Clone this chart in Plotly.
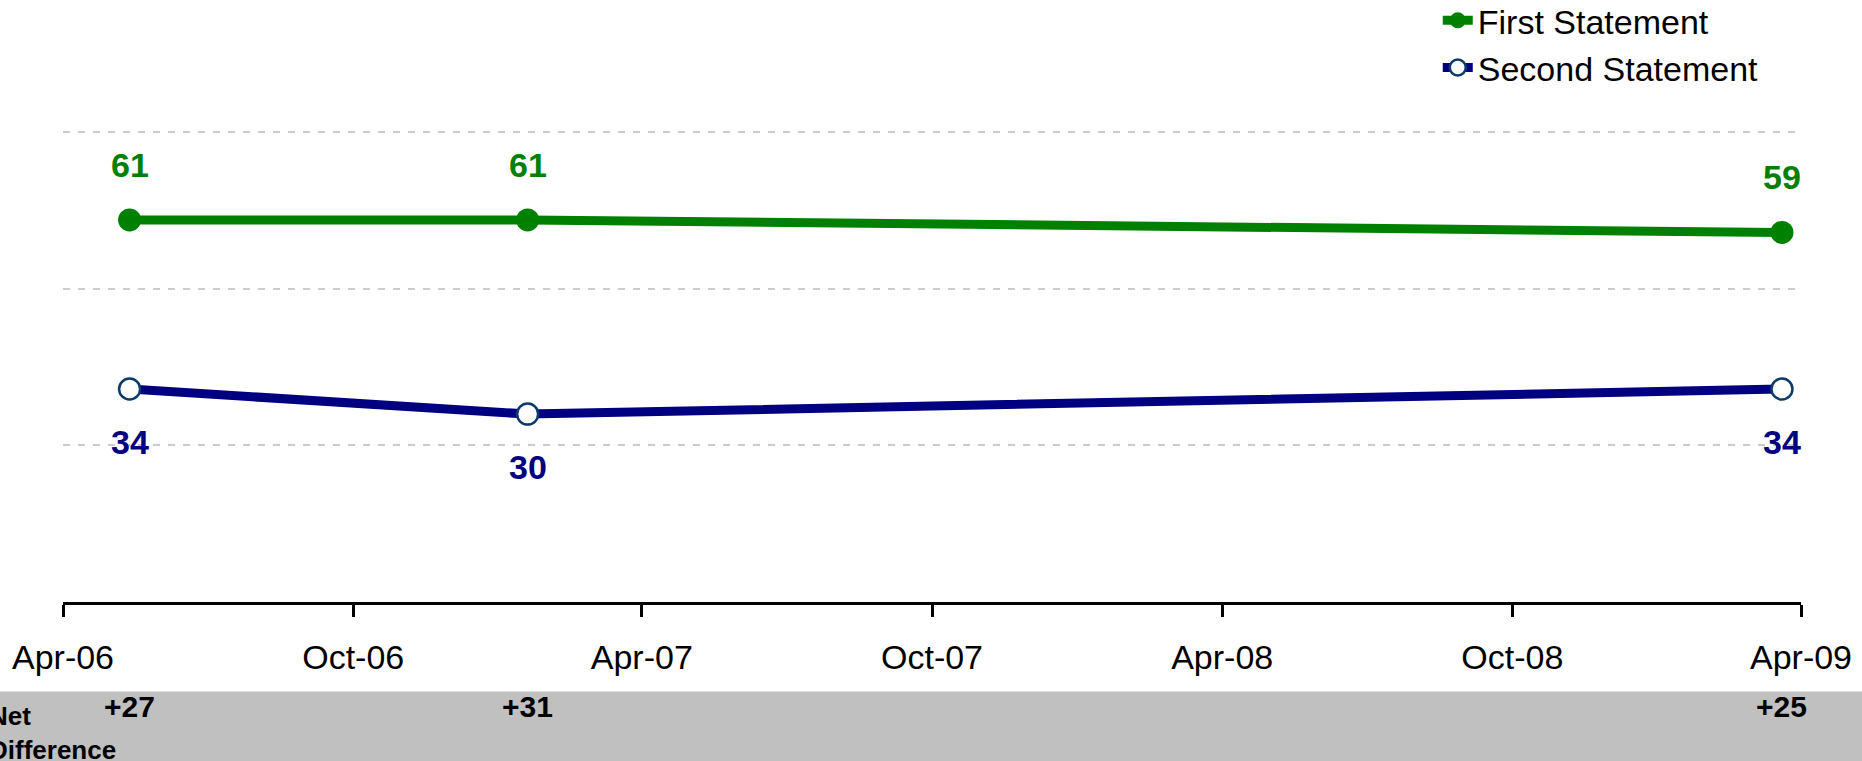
import plotly.graph_objects as go

# ---- data ----
survey_dates = ["2006-05-13", "2007-01-19", "2009-03-20"]
first_statement = [61, 61, 59]
second_statement = [34, 30, 34]
net_difference = ["+27", "+31", "+25"]
tick_dates = ["2006-04-01", "2006-10-01", "2007-04-01", "2007-10-01",
              "2008-04-01", "2008-10-01", "2009-04-01"]
tick_labels = ["Apr-06", "Oct-06", "Apr-07", "Oct-07", "Apr-08", "Oct-08", "Apr-09"]
series_names = ["First Statement", "Second Statement"]

GREEN = "#008000"
NAVY = "#000080"
FONT = "Liberation Sans, Arial, sans-serif"

fig = go.Figure()
fig.add_trace(go.Scatter(
    x=survey_dates, y=first_statement, name=series_names[0],
    mode="lines+markers",
    line=dict(color=GREEN, width=9),
    marker=dict(color=GREEN, size=23, line=dict(width=0)),
    hoverinfo="x+y",
))
fig.add_trace(go.Scatter(
    x=survey_dates, y=second_statement, name=series_names[1],
    mode="lines+markers",
    line=dict(color=NAVY, width=9),
    marker=dict(color="white", size=21, line=dict(width=2.5, color="#0B3A6B")),
    hoverinfo="x+y",
))

annotations = []
for d, v in zip(survey_dates, first_statement):
    annotations.append(dict(x=d, y=v, xref="x", yref="y", text=f"<b>{v}</b>",
                            showarrow=False, yshift=55,
                            font=dict(family=FONT, size=34, color=GREEN)))
for d, v in zip(survey_dates, second_statement):
    annotations.append(dict(x=d, y=v, xref="x", yref="y", text=f"<b>{v}</b>",
                            showarrow=False, yshift=-53,
                            font=dict(family=FONT, size=34, color=NAVY)))
for d, t in zip(survey_dates, net_difference):
    annotations.append(dict(x=d, y=-0.2592, xref="x", yref="paper", text=f"<b>{t}</b>",
                            showarrow=False,
                            font=dict(family=FONT, size=30, color="black")))
annotations.append(dict(x=-0.0437, y=-0.276, xref="paper", yref="paper",
                        xanchor="left", yanchor="middle", align="left",
                        text="<b>Net<br>Difference</b>", showarrow=False,
                        font=dict(family=FONT, size=26, color="black")))

fig.update_layout(
    width=1862, height=761,
    margin=dict(l=63, r=61, t=125.5, b=159.4, pad=0, autoexpand=False),
    paper_bgcolor="white", plot_bgcolor="white",
    font=dict(family=FONT, size=34, color="black"),
    showlegend=True,
    legend=dict(x=0.791, y=1.282, xanchor="left", yanchor="top",
                bgcolor="rgba(0,0,0,0)", font=dict(family=FONT, size=34),
                tracegroupgap=0),
    annotations=annotations,
    shapes=[dict(type="rect", xref="paper", yref="paper",
                 x0=-0.06, x1=1.06, y0=-0.1878, y1=-0.40,
                 fillcolor="#C0C0C0", line=dict(width=0), layer="below")],
)
fig.update_xaxes(
    type="date", range=["2006-04-01", "2009-04-01"],
    tickmode="array", tickvals=tick_dates, ticktext=tick_labels,
    showgrid=False, showline=True, linecolor="black", linewidth=3,
    ticks="outside", ticklen=12, tickwidth=3, tickcolor="black",
    tickfont=dict(family=FONT, size=34, color="black"),
    ticklabelstandoff=11,
)
fig.update_yaxes(
    range=[0, 76], tickmode="array", tickvals=[25, 50, 75],
    showticklabels=False, showline=False,
    showgrid=True, gridcolor="#CCCCCC", gridwidth=1.5, griddash="7px,8px",
    zeroline=False,
)

fig.write_html("out.html", config={"displayModeBar": False},
               post_script="document.body.style.margin='0';document.body.style.overflow='hidden';")
